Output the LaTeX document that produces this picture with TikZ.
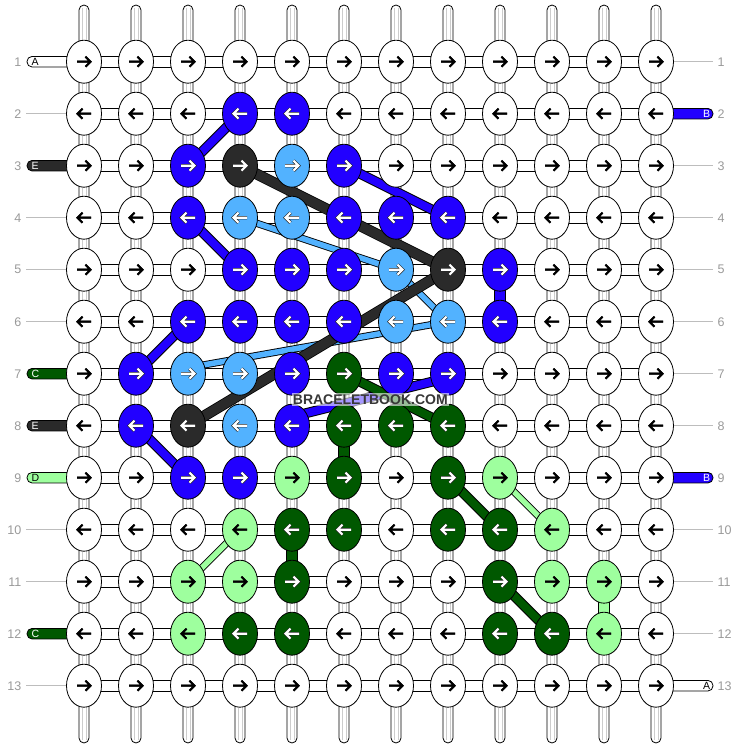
\documentclass[tikz,border=0pt]{standalone}
\usepackage{fontspec}
\setmainfont{Liberation Sans}
\usetikzlibrary{shapes.geometric,calc}
\definecolor{cw}{HTML}{FFFFFF}
\definecolor{cb}{HTML}{2200FF}
\definecolor{ck}{HTML}{2A2A2A}
\definecolor{cl}{HTML}{52B2FF}
\definecolor{cg}{HTML}{005800}
\definecolor{cp}{HTML}{9EFF9E}
\definecolor{lbl}{HTML}{9A9A9A}
\definecolor{lead}{HTML}{BDBDBD}
\definecolor{tubeg}{HTML}{CCCCCC}
\pgfdeclarelayer{base}
\pgfdeclarelayer{strands}
\pgfdeclarelayer{top}
\pgfsetlayers{base,strands,main,top}
\tikzset{
  knot/.style={ellipse, draw=black, line width=0.8pt, minimum width=35pt, minimum height=43pt, inner sep=0pt},
  strand/.style={draw=#1, line width=8pt, preaction={draw=black, line width=10pt}},
  kstrand/.style={draw=#1, line width=9.5pt, preaction={draw=black, line width=11pt}},
  lstrand/.style={draw=#1, line width=5.5pt, preaction={draw=black, line width=7.3pt}},
  vstrand/.style={draw=#1, line width=9.5pt, preaction={draw=black, line width=11.3pt}},
  num/.style={text=lbl, font=\fontsize{12.5}{14}\selectfont, inner sep=0pt},
  tabtxt/.style={font=\fontsize{10.5}{11}\selectfont, inner sep=0pt},
  tube/.style={draw=black, fill=white, line width=0.8pt},
  glead/.style={draw=lead, line width=0.8pt},
  tabshape/.style={draw=black, line width=0.8pt, rounded corners=5pt},
}
\begin{document}
\begin{tikzpicture}[x=1pt,y=-1pt]
\useasboundingbox (0,0) rectangle (740,748);
% ---------- base: strings, connectors, side labels
\begin{pgfonlayer}{base}
\fill[white] (0,0) rectangle (740,748);
\foreach \ci in {1,...,12} {
  \pgfmathsetmacro\xx{84+52*(\ci-1)}
  \draw[tube, rounded corners=5pt] ({\xx-5},5) rectangle ({\xx+5},743);
  \draw[tubeg, line width=0.5pt] ({\xx-1.8},8) -- ({\xx-1.8},740) ({\xx+1.8},8) -- ({\xx+1.8},740);
}
\foreach \ri in {1,...,13} {
  \pgfmathsetmacro\yy{61.7+52*(\ri-1)}
  \draw[tube] (84,{\yy-5.25}) rectangle (656,{\yy+5.25});
  \node[num, anchor=east] (nl-\ri) at (21.5,\yy) {\ri};
  \node[num, anchor=west] (nr-\ri) at (717.5,\yy) {\ri};
}
% left tabs
\foreach \ri/\t/\f/\tc in {1/A/white/black, 3/E/ck/white, 7/C/cg/white, 8/E/ck/white, 9/D/cp/black, 12/C/cg/white} {
  \pgfmathsetmacro\yy{61.7+52*(\ri-1)}
  \draw[tabshape, fill=\f] (27,{\yy-5.25}) rectangle (80,{\yy+5.25});
  \node[tabtxt, text=\tc, anchor=west] (tl-\ri) at (31.3,\yy) {\t};
}
\foreach \ri in {2,4,5,6,10,11,13} {
  \pgfmathsetmacro\yy{61.7+52*(\ri-1)}
  \draw[glead] (26,\yy) -- (67,\yy);
}
% right tabs
\foreach \ri/\t/\f/\tc in {2/B/cb/white, 9/B/cb/white, 13/A/white/black} {
  \pgfmathsetmacro\yy{61.7+52*(\ri-1)}
  \draw[tabshape, fill=\f] (660,{\yy-5.25}) rectangle (713,{\yy+5.25});
  \node[tabtxt, text=\tc, anchor=east] (tr-\ri) at (710.3,\yy) {\t};
}
\foreach \ri in {1,3,4,5,6,7,8,10,11,12} {
  \pgfmathsetmacro\yy{61.7+52*(\ri-1)}
  \draw[glead] (673,\yy) -- (713,\yy);
}
\end{pgfonlayer}
% ---------- knots
\foreach \row [count=\ri] in {
 {w,w,w,w,w,w,w,w,w,w,w,w},
 {w,w,w,b,b,w,w,w,w,w,w,w},
 {w,w,b,k,l,b,w,w,w,w,w,w},
 {w,w,b,l,l,b,b,b,w,w,w,w},
 {w,w,w,b,b,b,l,k,b,w,w,w},
 {w,w,b,b,b,b,l,l,b,w,w,w},
 {w,b,l,l,b,g,b,b,w,w,w,w},
 {w,b,k,l,b,g,g,g,w,w,w,w},
 {w,w,b,b,p,g,w,g,p,w,w,w},
 {w,w,w,p,g,g,w,g,g,p,w,w},
 {w,w,p,p,g,w,w,w,g,p,p,w},
 {w,w,p,g,g,w,w,w,g,g,p,w},
 {w,w,w,w,w,w,w,w,w,w,w,w}} {
  \foreach \col [count=\ci] in \row {
    \node[knot, fill=c\col] (k-\ri-\ci) at ({84+52*(\ci-1)},{61.7+52*(\ri-1)}) {};
    \def\ac{white}\def\lw{2.1pt}\def\olw{3.3pt}
    \if\col w\def\ac{black}\def\lw{2pt}\def\olw{2pt}\fi
    \if\col p\def\ac{black}\def\lw{2pt}\def\olw{2pt}\fi
    \ifodd\ri\def\dir{1}\else\def\dir{-1}\fi
    \draw[draw=\ac, line width=\lw, preaction={draw=black!85, line width=\olw}, shift={(k-\ri-\ci.center)}, xscale=\dir]
      (-7,0) -- (6,0) (1.5,-5) -- (6.5,0) -- (1.5,5);
  }
}
% ---------- threads between knots
\begin{pgfonlayer}{strands}
\draw[lstrand=cl] (k-4-4.center) -- (k-5-7.center);
\draw[lstrand=cl] (k-5-7.center) -- (k-6-8.center);
\draw[lstrand=cl] (k-6-8.center) -- ($(k-7-3.center)+(0,-6)$);
\draw[strand=cb] (k-2-4.center) -- (k-3-3.center);
\draw[strand=cb] (k-3-6.center) -- (k-4-8.center);
\draw[strand=cb] (k-4-3.center) -- (k-5-4.center);
\draw[strand=cb] (k-6-3.center) -- (k-7-2.center);
\draw[strand=cb] (k-8-2.center) -- (k-9-3.center);
\draw[strand=cb] ($(k-7-8.center)+(0,4)$) -- ($(k-8-5.center)+(0,-9)$);
\draw[vstrand=cb] (k-5-9.center) -- (k-6-9.center);
\draw[kstrand=ck] (k-3-4.center) -- (k-5-8.center);
\draw[kstrand=ck] (k-5-8.center) -- (k-8-3.center);
\draw[strand=cg] (k-7-6.center) -- (k-8-8.center);
\draw[vstrand=cg] (k-8-6.center) -- (k-9-6.center);
\draw[vstrand=cg] (k-10-5.center) -- (k-11-5.center);
\draw[strand=cg] (k-9-8.center) -- (k-10-9.center);
\draw[strand=cg] (k-11-9.center) -- (k-12-10.center);
\draw[lstrand=cp] (k-10-4.center) -- (k-11-3.center);
\draw[lstrand=cp] (k-9-9.center) -- (k-10-10.center);
\draw[vstrand=cp] (k-11-11.center) -- (k-12-11.center);
\end{pgfonlayer}
% ---------- watermark
\begin{pgfonlayer}{top}
\node[font=\bfseries\fontsize{14}{16}\selectfont, text=black!78, fill=white, fill opacity=0.6, text opacity=1, inner sep=1.2pt] (wm) at (370.3,399.5) {BRACELETBOOK.COM};
\end{pgfonlayer}
\end{tikzpicture}
\end{document}
